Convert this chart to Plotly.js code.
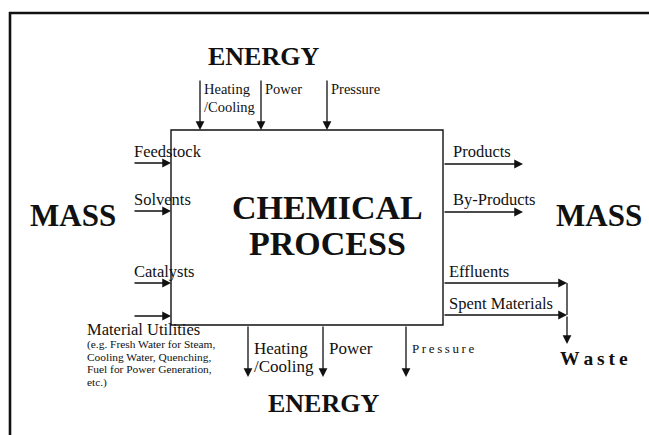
<!DOCTYPE html>
<html>
<head>
<meta charset="utf-8">
<script src="https://cdn.plot.ly/plotly-3.0.1.min.js"></script>
<style>html,body{margin:0;padding:0;background:#fff;overflow:hidden;}#chart{width:649px;height:435px;}</style>
</head>
<body>
<div id="chart"></div>
<script>
// ---- diagram content ----
const energyTitle = 'ENERGY';
const massTitle = 'MASS';
const processLines = ['CHEMICAL', 'PROCESS'];
const energyInLabels = [['Heating', '/Cooling'], ['Power'], ['Pressure']];
const energyOutLabels = [['Heating', '/Cooling'], ['Power'], ['P\u2009r\u2009e\u2009s\u2009s\u2009u\u2009r\u2009e']];
const massInLabels = ['Feedstock', 'Solvents', 'Catalysts', 'Material Utilities'];
const utilitiesNote = ['(e.g. Fresh Water for Steam,', 'Cooling Water, Quenching,', 'Fuel for Power Generation,', 'etc.)'];
const massOutLabels = ['Products', 'By-Products'];
const wasteLabels = ['Effluents', 'Spent Materials'];
const wasteTitle = 'W\u2009a\u2009s\u2009t\u2009e';

// ---- layout geometry ----
const SERIF = 'Liberation Serif, Times New Roman, serif';
const INK = '#111';
const box = {x0: 171, x1: 443, y0: 130, y1: 325};
const topArrowX = [200, 261, 327];
const botArrowX = [248, 323, 406];
const leftArrowY = [163, 211, 283, 316];
const rightArrowY = [164, 212];
const wasteArrowY = [283, 315];
const wasteX = 567;

const shapes = [
  {type: 'line', xref: 'x', yref: 'y', x0: 9, x1: 649, y0: 13, y1: 13, line: {color: INK, width: 2.6}},
  {type: 'line', xref: 'x', yref: 'y', x0: 10, x1: 10, y0: 12, y1: 435, line: {color: INK, width: 2.6}},
  {type: 'rect', xref: 'x', yref: 'y', x0: box.x0, x1: box.x1, y0: box.y0, y1: box.y1, line: {color: INK, width: 1.4}},
  {type: 'line', xref: 'x', yref: 'y', x0: wasteX, x1: wasteX, y0: wasteArrowY[0], y1: wasteArrowY[1], line: {color: INK, width: 1.3}}
];

const ann = [];
function arrow(tx, ty, hx, hy) {
  ann.push({xref: 'x', yref: 'y', axref: 'x', ayref: 'y', x: hx, y: hy, ax: tx, ay: ty,
    text: '', showarrow: true, arrowhead: 2, arrowsize: 1.35, arrowwidth: 1.3, arrowcolor: INK});
}
function label(text, x, y, size, opts) {
  opts = opts || {};
  ann.push({xref: 'x', yref: 'y', x: x, y: y, text: text, showarrow: false,
    xanchor: opts.xanchor || 'left', yanchor: 'middle',
    font: {family: SERIF, size: size, color: INK, weight: opts.bold ? 'bold' : 'normal'}});
}

// titles
label(energyTitle, 263, 56, 26, {bold: true, xanchor: 'center'});
label(energyTitle, 323, 403, 26, {bold: true, xanchor: 'center'});
label(massTitle, 73, 215, 31, {bold: true, xanchor: 'center'});
label(massTitle, 599, 215, 31, {bold: true, xanchor: 'center'});
label(processLines[0], 327, 207, 34, {bold: true, xanchor: 'center'});
label(processLines[1], 327, 243, 34, {bold: true, xanchor: 'center'});
label(wasteTitle, 594, 358, 19.5, {bold: true, xanchor: 'center'});

// energy in (top)
topArrowX.forEach((x, i) => {
  arrow(x, 79, x, box.y0);
  energyInLabels[i].forEach((t, j) => label(t, x + 2, 89 + j * 18, 14.5));
});
// energy out (bottom)
botArrowX.forEach((x, i) => {
  arrow(x, box.y1, x, 377);
  energyOutLabels[i].forEach((t, j) => label(t, x + 4, 348 + j * 18, i === 2 ? 13 : 17));
});
// mass in (left)
leftArrowY.forEach((y, i) => {
  arrow(133, y, box.x0, y);
  if (i < 3) label(massInLabels[i], 132, y - 12, 16.5);
  else label(massInLabels[i], 85, y + 13, 16.5);
});
utilitiesNote.forEach((t, j) => label(t, 85, 344 + j * 12.7, 11.4));
// mass out (right)
rightArrowY.forEach((y, i) => {
  arrow(box.x1, y, 523, y);
  label(massOutLabels[i], 451, y - 13, 16.5);
});
wasteArrowY.forEach((y, i) => {
  arrow(box.x1, y, wasteX, y);
  label(wasteLabels[i], 447, y - 12, 16.5);
});
arrow(wasteX, wasteArrowY[1], wasteX, 344);

const layout = {
  width: 649, height: 435,
  margin: {l: 0, r: 0, t: 0, b: 0},
  paper_bgcolor: '#fff', plot_bgcolor: '#fff',
  showlegend: false,
  xaxis: {range: [0, 649], visible: false, fixedrange: true},
  yaxis: {range: [435, 0], visible: false, fixedrange: true},
  shapes: shapes,
  annotations: ann
};
Plotly.newPlot('chart', [{x: [], y: [], type: 'scatter'}], layout, {staticPlot: true, displayModeBar: false});
</script>
</body>
</html>
